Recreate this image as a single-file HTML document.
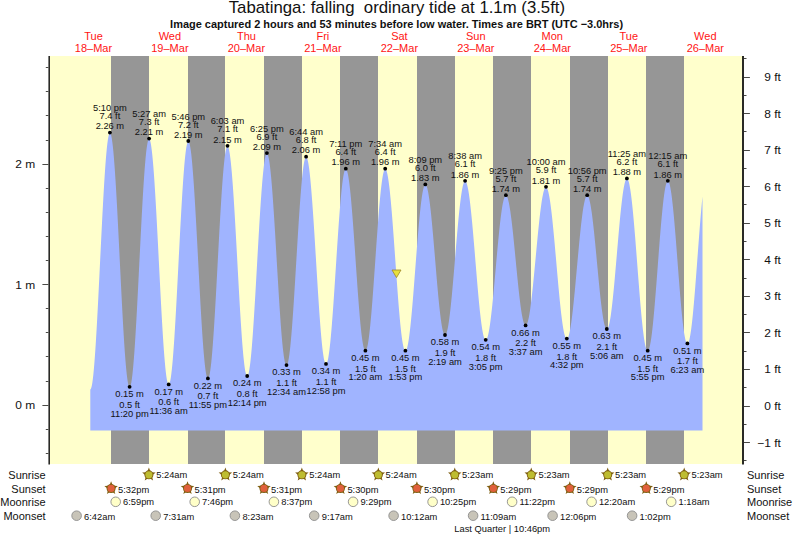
<!DOCTYPE html>
<html lang="en"><head><meta charset="utf-8"><title>Tabatinga tide times</title>
<style>html,body{margin:0;padding:0;background:#fff;}body{width:793px;height:538px;overflow:hidden;font-family:"Liberation Sans",Arial,Helvetica,sans-serif;}svg{display:block;}</style>
</head><body>
<svg width="793" height="538" viewBox="0 0 793 538" font-family="'Liberation Sans', Arial, Helvetica, sans-serif">
<rect width="793" height="538" fill="#fff"/>
<g shape-rendering="crispEdges">
<rect x="50" y="56" width="692" height="408" fill="#ffffcc"/>
<rect x="111" y="56" width="38" height="408" fill="#969696"/>
<rect x="188" y="56" width="37" height="408" fill="#969696"/>
<rect x="264" y="56" width="38" height="408" fill="#969696"/>
<rect x="340" y="56" width="38" height="408" fill="#969696"/>
<rect x="417" y="56" width="38" height="408" fill="#969696"/>
<rect x="493" y="56" width="38" height="408" fill="#969696"/>
<rect x="570" y="56" width="38" height="408" fill="#969696"/>
<rect x="646" y="56" width="38" height="408" fill="#969696"/>
</g>
<polygon points="90.30,430.6 90.30,389.53 90.80,389.09 91.30,387.84 91.80,385.77 92.30,382.91 92.80,379.27 93.30,374.88 93.80,369.76 94.30,363.95 94.80,357.48 95.30,350.40 95.80,342.74 96.30,334.57 96.80,325.93 97.30,316.87 97.80,307.46 98.30,297.75 98.80,287.81 99.30,277.70 99.80,267.49 100.30,257.23 100.80,247.00 101.30,236.86 101.80,226.88 102.30,217.12 102.80,207.63 103.30,198.49 103.80,189.75 104.30,181.47 104.80,173.69 105.30,166.47 105.80,159.86 106.30,153.90 106.80,148.62 107.30,144.06 107.80,140.25 108.30,137.21 108.80,134.96 109.30,133.52 109.80,132.90 109.93,132.87 110.30,133.09 110.80,134.09 111.30,135.90 111.80,138.50 112.30,141.88 112.80,146.01 113.30,150.86 113.80,156.42 114.30,162.63 114.80,169.47 115.30,176.89 115.80,184.84 116.30,193.26 116.80,202.12 117.30,211.34 117.80,220.88 118.30,230.66 118.80,240.63 119.30,250.72 119.80,260.88 120.30,271.03 120.80,281.11 121.30,291.05 121.80,300.79 122.30,310.28 122.80,319.44 123.30,328.22 123.80,336.57 124.30,344.43 124.80,351.75 125.30,358.48 125.80,364.59 126.30,370.03 126.80,374.76 127.30,378.76 127.80,382.00 128.30,384.47 128.80,386.13 129.30,387.00 129.58,387.12 129.80,387.05 130.30,386.29 130.80,384.74 131.30,382.39 131.80,379.28 132.30,375.40 132.80,370.80 133.30,365.49 133.80,359.52 134.30,352.93 134.80,345.75 135.30,338.03 135.80,329.83 136.30,321.19 136.80,312.18 137.30,302.84 137.80,293.25 138.30,283.46 138.80,273.54 139.30,263.55 139.80,253.56 140.30,243.63 140.80,233.82 141.30,224.20 141.80,214.84 142.30,205.79 142.80,197.10 143.30,188.85 143.80,181.08 144.30,173.84 144.80,167.18 145.30,161.14 145.80,155.76 146.30,151.08 146.80,147.13 147.30,143.93 147.80,141.50 148.30,139.86 148.80,139.01 149.07,138.89 149.30,138.98 149.80,139.73 150.30,141.27 150.80,143.58 151.30,146.65 151.80,150.46 152.30,154.98 152.80,160.19 153.30,166.06 153.80,172.54 154.30,179.59 154.80,187.17 155.30,195.23 155.80,203.71 156.30,212.57 156.80,221.75 157.30,231.18 157.80,240.81 158.30,250.57 158.80,260.41 159.30,270.25 159.80,280.04 160.30,289.72 160.80,299.21 161.30,308.47 161.80,317.42 162.30,326.02 162.80,334.20 163.30,341.92 163.80,349.13 164.30,355.78 164.80,361.82 165.30,367.22 165.80,371.94 166.30,375.95 166.80,379.24 167.30,381.77 167.80,383.52 168.30,384.50 168.67,384.71 168.80,384.69 169.30,384.10 169.80,382.73 170.30,380.60 170.80,377.72 171.30,374.11 171.80,369.79 172.30,364.78 172.80,359.13 173.30,352.86 173.80,346.02 174.30,338.64 174.80,330.79 175.30,322.50 175.80,313.83 176.30,304.84 176.80,295.58 177.30,286.11 177.80,276.49 178.30,266.79 178.80,257.07 179.30,247.38 179.80,237.79 180.30,228.36 180.80,219.16 181.30,210.23 181.80,201.64 182.30,193.45 182.80,185.69 183.30,178.44 183.80,171.72 184.30,165.58 184.80,160.07 185.30,155.21 185.80,151.05 186.30,147.59 186.80,144.88 187.30,142.92 187.80,141.72 188.30,141.31 188.32,141.31 188.80,141.66 189.30,142.77 189.80,144.63 190.30,147.24 190.80,150.57 191.30,154.60 191.80,159.31 192.30,164.66 192.80,170.63 193.30,177.17 193.80,184.24 194.30,191.80 194.80,199.80 195.30,208.18 195.80,216.90 196.30,225.89 196.80,235.11 197.30,244.48 197.80,253.95 198.30,263.46 198.80,272.95 199.30,282.35 199.80,291.62 200.30,300.67 200.80,309.47 201.30,317.95 201.80,326.06 202.30,333.74 202.80,340.95 203.30,347.64 203.80,353.77 204.30,359.30 204.80,364.18 205.30,368.40 205.80,371.92 206.30,374.73 206.80,376.79 207.30,378.11 207.80,378.67 207.92,378.69 208.30,378.47 208.80,377.52 209.30,375.83 209.80,373.40 210.30,370.26 210.80,366.42 211.30,361.91 211.80,356.76 212.30,351.00 212.80,344.66 213.30,337.80 213.80,330.45 214.30,322.66 214.80,314.48 215.30,305.96 215.80,297.17 216.30,288.14 216.80,278.96 217.30,269.66 217.80,260.32 218.30,250.99 218.80,241.74 219.30,232.62 219.80,223.69 220.30,215.01 220.80,206.64 221.30,198.63 221.80,191.03 222.30,183.89 222.80,177.26 223.30,171.17 223.80,165.68 224.30,160.81 224.80,156.60 225.30,153.07 225.80,150.24 226.30,148.14 226.80,146.78 227.30,146.16 227.46,146.12 227.80,146.29 228.30,147.15 228.80,148.74 229.30,151.04 229.80,154.04 230.30,157.72 230.80,162.06 231.30,167.03 231.80,172.59 232.30,178.72 232.80,185.37 233.30,192.51 233.80,200.08 234.30,208.04 234.80,216.33 235.30,224.92 235.80,233.73 236.30,242.72 236.80,251.82 237.30,260.98 237.80,270.15 238.30,279.26 238.80,288.25 239.30,297.07 239.80,305.67 240.30,313.98 240.80,321.96 241.30,329.55 241.80,336.70 242.30,343.38 242.80,349.53 243.30,355.13 243.80,360.12 244.30,364.49 244.80,368.20 245.30,371.24 245.80,373.57 246.30,375.19 246.80,376.09 247.16,376.28 247.30,376.25 247.80,375.71 248.30,374.46 248.80,372.51 249.30,369.87 249.80,366.58 250.30,362.63 250.80,358.06 251.30,352.90 251.80,347.18 252.30,340.94 252.80,334.22 253.30,327.05 253.80,319.49 254.30,311.58 254.80,303.37 255.30,294.92 255.80,286.28 256.30,277.50 256.80,268.64 257.30,259.76 257.80,250.90 258.30,242.14 258.80,233.52 259.30,225.10 259.80,216.93 260.30,209.07 260.80,201.56 261.30,194.45 261.80,187.79 262.30,181.62 262.80,175.98 263.30,170.90 263.80,166.42 264.30,162.56 264.80,159.35 265.30,156.81 265.80,154.96 266.30,153.81 266.80,153.36 266.87,153.36 267.30,153.61 267.80,154.54 268.30,156.14 268.80,158.41 269.30,161.32 269.80,164.86 270.30,169.01 270.80,173.75 271.30,179.03 271.80,184.82 272.30,191.10 272.80,197.81 273.30,204.92 273.80,212.38 274.30,220.14 274.80,228.16 275.30,236.37 275.80,244.73 276.30,253.19 276.80,261.69 277.30,270.17 277.80,278.58 278.30,286.87 278.80,294.98 279.30,302.86 279.80,310.47 280.30,317.75 280.80,324.65 281.30,331.13 281.80,337.15 282.30,342.68 282.80,347.67 283.30,352.09 283.80,355.91 284.30,359.12 284.80,361.69 285.30,363.60 285.80,364.84 286.30,365.40 286.46,365.44 286.80,365.28 287.30,364.50 287.80,363.07 288.30,360.98 288.80,358.25 289.30,354.90 289.80,350.96 290.30,346.44 290.80,341.37 291.30,335.80 291.80,329.75 292.30,323.26 292.80,316.37 293.30,309.13 293.80,301.59 294.30,293.79 294.80,285.78 295.30,277.61 295.80,269.34 296.30,261.01 296.80,252.69 297.30,244.42 297.80,236.26 298.30,228.26 298.80,220.47 299.30,212.94 299.80,205.71 300.30,198.85 300.80,192.38 301.30,186.34 301.80,180.79 302.30,175.75 302.80,171.26 303.30,167.34 303.80,164.02 304.30,161.32 304.80,159.26 305.30,157.85 305.80,157.10 306.11,156.97 306.30,157.01 306.80,157.58 307.30,158.79 307.80,160.63 308.30,163.10 308.80,166.18 309.30,169.85 309.80,174.09 310.30,178.87 310.80,184.16 311.30,189.92 311.80,196.13 312.30,202.74 312.80,209.72 313.30,217.01 313.80,224.57 314.30,232.36 314.80,240.32 315.30,248.42 315.80,256.58 316.30,264.78 316.80,272.95 317.30,281.04 317.80,289.00 318.30,296.78 318.80,304.34 319.30,311.63 319.80,318.59 320.30,325.20 320.80,331.40 321.30,337.15 321.80,342.43 322.30,347.20 322.80,351.43 323.30,355.08 323.80,358.15 324.30,360.61 324.80,362.44 325.30,363.64 325.80,364.19 325.98,364.23 326.30,364.10 326.80,363.40 327.30,362.09 327.80,360.18 328.30,357.68 328.80,354.61 329.30,350.98 329.80,346.83 330.30,342.17 330.80,337.04 331.30,331.46 331.80,325.48 332.30,319.12 332.80,312.44 333.30,305.47 333.80,298.26 334.30,290.84 334.80,283.28 335.30,275.61 335.80,267.88 336.30,260.14 336.80,252.45 337.30,244.84 337.80,237.38 338.30,230.09 338.80,223.04 339.30,216.26 339.80,209.79 340.30,203.69 340.80,197.97 341.30,192.69 341.80,187.88 342.30,183.56 342.80,179.76 343.30,176.51 343.80,173.82 344.30,171.72 344.80,170.21 345.30,169.31 345.79,169.02 345.80,169.02 346.30,169.33 346.80,170.22 347.30,171.69 347.80,173.72 348.30,176.31 348.80,179.44 349.30,183.08 349.80,187.22 350.30,191.82 350.80,196.86 351.30,202.31 351.80,208.13 352.30,214.28 352.80,220.73 353.30,227.42 353.80,234.33 354.30,241.40 354.80,248.59 355.30,255.85 355.80,263.14 356.30,270.41 356.80,277.62 357.30,284.71 357.80,291.64 358.30,298.37 358.80,304.85 359.30,311.04 359.80,316.91 360.30,322.41 360.80,327.51 361.30,332.18 361.80,336.38 362.30,340.09 362.80,343.29 363.30,345.95 363.80,348.06 364.30,349.61 364.80,350.58 365.30,350.97 365.38,350.98 365.80,350.78 366.30,350.02 366.80,348.70 367.30,346.82 367.80,344.41 368.30,341.46 368.80,338.01 369.30,334.06 369.80,329.66 370.30,324.82 370.80,319.57 371.30,313.95 371.80,308.00 372.30,301.74 372.80,295.23 373.30,288.49 373.80,281.57 374.30,274.53 374.80,267.38 375.30,260.20 375.80,253.01 376.30,245.87 376.80,238.81 377.30,231.89 377.80,225.14 378.30,218.61 378.80,212.34 379.30,206.36 379.80,200.73 380.30,195.46 380.80,190.59 381.30,186.16 381.80,182.20 382.30,178.71 382.80,175.74 383.30,173.29 383.80,171.39 384.30,170.03 384.80,169.25 385.25,169.02 385.30,169.02 385.80,169.36 386.30,170.25 386.80,171.69 387.30,173.66 387.80,176.16 388.30,179.17 388.80,182.67 389.30,186.64 389.80,191.06 390.30,195.90 390.80,201.12 391.30,206.71 391.80,212.62 392.30,218.82 392.80,225.27 393.30,231.93 393.80,238.76 394.30,245.73 394.80,252.77 395.30,259.87 395.80,266.96 396.30,274.01 396.80,280.98 397.30,287.81 397.80,294.48 398.30,300.94 398.80,307.15 399.30,313.07 399.80,318.67 400.30,323.91 400.80,328.77 401.30,333.20 401.80,337.19 402.30,340.71 402.80,343.74 403.30,346.25 403.80,348.25 404.30,349.70 404.80,350.61 405.30,350.97 405.37,350.98 405.80,350.79 406.30,350.09 406.80,348.89 407.30,347.18 407.80,344.99 408.30,342.32 408.80,339.18 409.30,335.61 409.80,331.61 410.30,327.22 410.80,322.47 411.30,317.37 411.80,311.97 412.30,306.30 412.80,300.39 413.30,294.28 413.80,288.00 414.30,281.60 414.80,275.11 415.30,268.58 415.80,262.05 416.30,255.55 416.80,249.12 417.30,242.82 417.80,236.66 418.30,230.70 418.80,224.97 419.30,219.50 419.80,214.34 420.30,209.50 420.80,205.02 421.30,200.94 421.80,197.26 422.30,194.03 422.80,191.25 423.30,188.94 423.80,187.12 424.30,185.80 424.80,184.99 425.30,184.69 425.34,184.68 425.80,184.89 426.30,185.57 426.80,186.72 427.30,188.35 427.80,190.43 428.30,192.95 428.80,195.90 429.30,199.27 429.80,203.02 430.30,207.13 430.80,211.58 431.30,216.35 431.80,221.39 432.30,226.67 432.80,232.17 433.30,237.85 433.80,243.67 434.30,249.59 434.80,255.58 435.30,261.60 435.80,267.61 436.30,273.56 436.80,279.44 437.30,285.19 437.80,290.77 438.30,296.16 438.80,301.32 439.30,306.22 439.80,310.82 440.30,315.10 440.80,319.02 441.30,322.57 441.80,325.71 442.30,328.44 442.80,330.73 443.30,332.57 443.80,333.95 444.30,334.85 444.80,335.27 444.99,335.31 445.30,335.22 445.80,334.70 446.30,333.71 446.80,332.26 447.30,330.36 447.80,328.02 448.30,325.26 448.80,322.09 449.30,318.52 449.80,314.60 450.30,310.32 450.80,305.73 451.30,300.86 451.80,295.72 452.30,290.35 452.80,284.79 453.30,279.06 453.80,273.21 454.30,267.27 454.80,261.27 455.30,255.25 455.80,249.26 456.30,243.31 456.80,237.46 457.30,231.73 457.80,226.16 458.30,220.79 458.80,215.65 459.30,210.76 459.80,206.16 460.30,201.88 460.80,197.95 461.30,194.38 461.80,191.20 462.30,188.42 462.80,186.07 463.30,184.16 463.80,182.70 464.30,181.70 464.80,181.17 465.12,181.07 465.30,181.10 465.80,181.50 466.30,182.36 466.80,183.68 467.30,185.44 467.80,187.65 468.30,190.28 468.80,193.32 469.30,196.76 469.80,200.57 470.30,204.72 470.80,209.21 471.30,213.99 471.80,219.05 472.30,224.35 472.80,229.86 473.30,235.55 473.80,241.38 474.30,247.33 474.80,253.36 475.30,259.43 475.80,265.50 476.30,271.55 476.80,277.53 477.30,283.41 477.80,289.16 478.30,294.75 478.80,300.13 479.30,305.29 479.80,310.18 480.30,314.78 480.80,319.07 481.30,323.01 481.80,326.60 482.30,329.79 482.80,332.58 483.30,334.96 483.80,336.89 484.30,338.38 484.80,339.42 485.30,340.00 485.67,340.13 485.80,340.12 486.30,339.79 486.80,339.02 487.30,337.82 487.80,336.20 488.30,334.17 488.80,331.73 489.30,328.91 489.80,325.72 490.30,322.17 490.80,318.30 491.30,314.12 491.80,309.66 492.30,304.95 492.80,300.01 493.30,294.88 493.80,289.59 494.30,284.16 494.80,278.63 495.30,273.04 495.80,267.42 496.30,261.80 496.80,256.22 497.30,250.70 497.80,245.29 498.30,240.02 498.80,234.91 499.30,230.01 499.80,225.33 500.30,220.91 500.80,216.78 501.30,212.95 501.80,209.46 502.30,206.32 502.80,203.55 503.30,201.17 503.80,199.20 504.30,197.64 504.80,196.50 505.30,195.80 505.80,195.53 505.85,195.53 506.30,195.69 506.80,196.26 507.30,197.24 507.80,198.62 508.30,200.39 508.80,202.54 509.30,205.06 509.80,207.92 510.30,211.12 510.80,214.64 511.30,218.44 511.80,222.51 512.30,226.82 512.80,231.35 513.30,236.05 513.80,240.92 514.30,245.91 514.80,250.99 515.30,256.13 515.80,261.30 516.30,266.47 516.80,271.59 517.30,276.65 517.80,281.61 518.30,286.44 518.80,291.10 519.30,295.57 519.80,299.81 520.30,303.82 520.80,307.54 521.30,310.97 521.80,314.09 522.30,316.86 522.80,319.28 523.30,321.33 523.80,322.99 524.30,324.26 524.80,325.13 525.30,325.59 525.61,325.67 525.80,325.64 526.30,325.28 526.80,324.50 527.30,323.32 527.80,321.75 528.30,319.78 528.80,317.43 529.30,314.72 529.80,311.66 530.30,308.28 530.80,304.58 531.30,300.60 531.80,296.35 532.30,291.86 532.80,287.17 533.30,282.29 533.80,277.25 534.30,272.09 534.80,266.84 535.30,261.52 535.80,256.18 536.30,250.83 536.80,245.52 537.30,240.27 537.80,235.12 538.30,230.10 538.80,225.23 539.30,220.55 539.80,216.08 540.30,211.85 540.80,207.89 541.30,204.22 541.80,200.85 542.30,197.82 542.80,195.14 543.30,192.82 543.80,190.88 544.30,189.34 544.80,188.19 545.30,187.44 545.80,187.11 545.95,187.09 546.30,187.20 546.80,187.72 547.30,188.66 547.80,190.03 548.30,191.81 548.80,194.00 549.30,196.59 549.80,199.54 550.30,202.87 550.80,206.53 551.30,210.51 551.80,214.80 552.30,219.35 552.80,224.16 553.30,229.19 553.80,234.40 554.30,239.79 554.80,245.30 555.30,250.92 555.80,256.60 556.30,262.32 556.80,268.04 557.30,273.74 557.80,279.37 558.30,284.92 558.80,290.33 559.30,295.59 559.80,300.67 560.30,305.53 560.80,310.15 561.30,314.50 561.80,318.56 562.30,322.30 562.80,325.71 563.30,328.76 563.80,331.43 564.30,333.71 564.80,335.60 565.30,337.07 565.80,338.11 566.30,338.73 566.77,338.92 566.80,338.92 567.30,338.69 567.80,338.02 568.30,336.94 568.80,335.45 569.30,333.55 569.80,331.25 570.30,328.58 570.80,325.54 571.30,322.16 571.80,318.45 572.30,314.44 572.80,310.15 573.30,305.60 573.80,300.83 574.30,295.85 574.80,290.71 575.30,285.43 575.80,280.04 576.30,274.57 576.80,269.06 577.30,263.54 577.80,258.04 578.30,252.60 578.80,247.24 579.30,242.00 579.80,236.91 580.30,232.00 580.80,227.30 581.30,222.84 581.80,218.64 582.30,214.73 582.80,211.12 583.30,207.86 583.80,204.94 584.30,202.39 584.80,200.23 585.30,198.46 585.80,197.10 586.30,196.16 586.80,195.64 587.16,195.53 587.30,195.55 587.80,195.88 588.30,196.63 588.80,197.81 589.30,199.40 589.80,201.39 590.30,203.77 590.80,206.52 591.30,209.63 591.80,213.08 592.30,216.84 592.80,220.90 593.30,225.22 593.80,229.78 594.30,234.54 594.80,239.49 595.30,244.58 595.80,249.78 596.30,255.06 596.80,260.40 597.30,265.74 597.80,271.06 598.30,276.33 598.80,281.51 599.30,286.57 599.80,291.47 600.30,296.19 600.80,300.69 601.30,304.95 601.80,308.93 602.30,312.62 602.80,315.99 603.30,319.01 603.80,321.67 604.30,323.96 604.80,325.85 605.30,327.34 605.80,328.41 606.30,329.06 606.80,329.28 606.81,329.28 607.30,329.07 607.80,328.39 608.30,327.27 608.80,325.69 609.30,323.68 609.80,321.25 610.30,318.40 610.80,315.17 611.30,311.56 611.80,307.60 612.30,303.31 612.80,298.73 613.30,293.87 613.80,288.77 614.30,283.46 614.80,277.96 615.30,272.33 615.80,266.57 616.30,260.75 616.80,254.88 617.30,249.01 617.80,243.16 618.30,237.38 618.80,231.71 619.30,226.17 619.80,220.79 620.30,215.62 620.80,210.69 621.30,206.01 621.80,201.63 622.30,197.57 622.80,193.85 623.30,190.50 623.80,187.53 624.30,184.97 624.80,182.83 625.30,181.12 625.80,179.85 626.30,179.04 626.80,178.68 626.94,178.66 627.30,178.79 627.80,179.39 628.30,180.48 628.80,182.06 629.30,184.12 629.80,186.63 630.30,189.60 630.80,193.00 631.30,196.81 631.80,201.02 632.30,205.59 632.80,210.50 633.30,215.72 633.80,221.23 634.30,226.98 634.80,232.96 635.30,239.11 635.80,245.42 636.30,251.83 636.80,258.32 637.30,264.85 637.80,271.38 638.30,277.87 638.80,284.29 639.30,290.59 639.80,296.74 640.30,302.71 640.80,308.47 641.30,313.97 641.80,319.19 642.30,324.10 642.80,328.66 643.30,332.86 643.80,336.67 644.30,340.07 644.80,343.03 645.30,345.54 645.80,347.59 646.30,349.17 646.80,350.25 647.30,350.85 647.65,350.98 647.80,350.95 648.30,350.55 648.80,349.63 649.30,348.20 649.80,346.28 650.30,343.87 650.80,340.99 651.30,337.65 651.80,333.88 652.30,329.70 652.80,325.14 653.30,320.22 653.80,314.96 654.30,309.42 654.80,303.61 655.30,297.57 655.80,291.34 656.30,284.96 656.80,278.46 657.30,271.89 657.80,265.28 658.30,258.68 658.80,252.12 659.30,245.65 659.80,239.30 660.30,233.11 660.80,227.12 661.30,221.36 661.80,215.88 662.30,210.70 662.80,205.85 663.30,201.37 663.80,197.28 664.30,193.61 664.80,190.37 665.30,187.60 665.80,185.30 666.30,183.48 666.80,182.17 667.30,181.36 667.80,181.07 667.83,181.07 668.30,181.30 668.80,182.05 669.30,183.32 669.80,185.10 670.30,187.37 670.80,190.14 671.30,193.37 671.80,197.04 672.30,201.14 672.80,205.63 673.30,210.49 673.80,215.69 674.30,221.18 674.80,226.94 675.30,232.94 675.80,239.12 676.30,245.45 676.80,251.89 677.30,258.40 677.80,264.94 678.30,271.46 678.80,277.92 679.30,284.28 679.80,290.50 680.30,296.53 680.80,302.35 681.30,307.91 681.80,313.18 682.30,318.11 682.80,322.69 683.30,326.88 683.80,330.66 684.30,333.99 684.80,336.86 685.30,339.25 685.80,341.14 686.30,342.53 686.80,343.39 687.30,343.74 687.38,343.75 687.80,343.56 688.30,342.86 688.80,341.65 689.30,339.93 689.80,337.72 690.30,335.02 690.80,331.85 691.30,328.23 691.80,324.19 692.30,319.75 692.80,314.92 693.30,309.75 693.80,304.27 694.30,298.50 694.80,292.48 695.30,286.25 695.80,279.85 696.30,273.31 696.80,266.67 697.30,259.97 697.80,253.25 698.30,246.56 698.80,239.93 699.30,233.40 699.80,227.01 700.30,220.80 700.80,214.81 701.30,209.08 701.80,203.62 702.30,198.49 702.50,196.54 702.50,430.6" fill="#a0b4ff"/>
<g fill="#2a2a26">
<rect x="48.4" y="56" width="1.6" height="408.5"/>
<rect x="742" y="56" width="2" height="408.5"/>
</g>
<g fill="#4a4a46">
<rect x="45.8" y="453" width="2.7" height="1"/>
<rect x="45.8" y="429" width="2.7" height="1"/>
<rect x="42.4" y="405" width="6.1" height="1"/>
<rect x="45.8" y="381" width="2.7" height="1"/>
<rect x="45.8" y="356" width="2.7" height="1"/>
<rect x="45.8" y="332" width="2.7" height="1"/>
<rect x="45.8" y="308" width="2.7" height="1"/>
<rect x="42.4" y="284" width="6.1" height="1"/>
<rect x="45.8" y="260" width="2.7" height="1"/>
<rect x="45.8" y="236" width="2.7" height="1"/>
<rect x="45.8" y="212" width="2.7" height="1"/>
<rect x="45.8" y="188" width="2.7" height="1"/>
<rect x="42.4" y="164" width="6.1" height="1"/>
<rect x="45.8" y="140" width="2.7" height="1"/>
<rect x="45.8" y="115" width="2.7" height="1"/>
<rect x="45.8" y="91" width="2.7" height="1"/>
<rect x="45.8" y="67" width="2.7" height="1"/>
<rect x="743.9" y="460" width="2.6" height="1"/>
<rect x="743.9" y="442" width="6" height="1"/>
<rect x="743.9" y="424" width="2.6" height="1"/>
<rect x="743.9" y="406" width="6" height="1"/>
<rect x="743.9" y="387" width="2.6" height="1"/>
<rect x="743.9" y="369" width="6" height="1"/>
<rect x="743.9" y="351" width="2.6" height="1"/>
<rect x="743.9" y="332" width="6" height="1"/>
<rect x="743.9" y="314" width="2.6" height="1"/>
<rect x="743.9" y="296" width="6" height="1"/>
<rect x="743.9" y="278" width="2.6" height="1"/>
<rect x="743.9" y="259" width="6" height="1"/>
<rect x="743.9" y="241" width="2.6" height="1"/>
<rect x="743.9" y="223" width="6" height="1"/>
<rect x="743.9" y="204" width="2.6" height="1"/>
<rect x="743.9" y="186" width="6" height="1"/>
<rect x="743.9" y="168" width="2.6" height="1"/>
<rect x="743.9" y="150" width="6" height="1"/>
<rect x="743.9" y="131" width="2.6" height="1"/>
<rect x="743.9" y="113" width="6" height="1"/>
<rect x="743.9" y="95" width="2.6" height="1"/>
<rect x="743.9" y="77" width="6" height="1"/>
<rect x="743.9" y="58" width="2.6" height="1"/>
</g>
<g font-size="11" fill="#111">
<text transform="translate(35.2,409.2) scale(1.09,1)" text-anchor="end">0 m</text>
<text transform="translate(35.2,288.7) scale(1.09,1)" text-anchor="end">1 m</text>
<text transform="translate(35.2,168.2) scale(1.09,1)" text-anchor="end">2 m</text>
<text transform="translate(780.9,446.6) scale(1.09,1)" text-anchor="end">−1 ft</text>
<text transform="translate(780.9,410.0) scale(1.09,1)" text-anchor="end">0 ft</text>
<text transform="translate(780.9,373.4) scale(1.09,1)" text-anchor="end">1 ft</text>
<text transform="translate(780.9,336.9) scale(1.09,1)" text-anchor="end">2 ft</text>
<text transform="translate(780.9,300.4) scale(1.09,1)" text-anchor="end">3 ft</text>
<text transform="translate(780.9,263.8) scale(1.09,1)" text-anchor="end">4 ft</text>
<text transform="translate(780.9,227.2) scale(1.09,1)" text-anchor="end">5 ft</text>
<text transform="translate(780.9,190.7) scale(1.09,1)" text-anchor="end">6 ft</text>
<text transform="translate(780.9,154.2) scale(1.09,1)" text-anchor="end">7 ft</text>
<text transform="translate(780.9,117.6) scale(1.09,1)" text-anchor="end">8 ft</text>
<text transform="translate(780.9,81.1) scale(1.09,1)" text-anchor="end">9 ft</text>
</g>
<text x="396.9" y="13.4" font-size="16.78" text-anchor="middle" fill="#111" xml:space="preserve" style="white-space:pre">Tabatinga: falling  ordinary tide at 1.1m (3.5ft)</text>
<text x="396.6" y="27.6" font-size="10.97" font-weight="bold" text-anchor="middle" fill="#111">Image captured 2 hours and 53 minutes before low water. Times are BRT (UTC −3.0hrs)</text>
<g font-size="11" fill="#ff1414" text-anchor="middle">
<text x="93.5" y="39.6">Tue</text>
<text x="93.5" y="51.8">18–Mar</text>
<text x="169.9" y="39.6">Wed</text>
<text x="169.9" y="51.8">19–Mar</text>
<text x="246.4" y="39.6">Thu</text>
<text x="246.4" y="51.8">20–Mar</text>
<text x="322.9" y="39.6">Fri</text>
<text x="322.9" y="51.8">21–Mar</text>
<text x="399.4" y="39.6">Sat</text>
<text x="399.4" y="51.8">22–Mar</text>
<text x="475.8" y="39.6">Sun</text>
<text x="475.8" y="51.8">23–Mar</text>
<text x="552.3" y="39.6">Mon</text>
<text x="552.3" y="51.8">24–Mar</text>
<text x="628.8" y="39.6">Tue</text>
<text x="628.8" y="51.8">25–Mar</text>
<text x="705.3" y="39.6">Wed</text>
<text x="705.3" y="51.8">26–Mar</text>
</g>
<g font-size="9.33" fill="#111" text-anchor="middle">
<circle cx="109.9" cy="132.6" r="1.9" fill="#000"/>
<text x="109.9" y="129.3">2.26 m</text>
<text x="109.9" y="119.1">7.4 ft</text>
<text x="109.9" y="111.1">5:10 pm</text>
<circle cx="129.6" cy="386.8" r="1.9" fill="#000"/>
<text x="129.6" y="396.9">0.15 m</text>
<text x="129.6" y="407.7">0.5 ft</text>
<text x="129.6" y="416.5">11:20 pm</text>
<circle cx="149.1" cy="138.6" r="1.9" fill="#000"/>
<text x="149.1" y="135.3">2.21 m</text>
<text x="149.1" y="125.1">7.3 ft</text>
<text x="149.1" y="117.1">5:27 am</text>
<circle cx="168.7" cy="384.4" r="1.9" fill="#000"/>
<text x="168.7" y="394.5">0.17 m</text>
<text x="168.7" y="405.3">0.6 ft</text>
<text x="168.7" y="414.1">11:36 am</text>
<circle cx="188.3" cy="141.0" r="1.9" fill="#000"/>
<text x="188.3" y="137.7">2.19 m</text>
<text x="188.3" y="127.5">7.2 ft</text>
<text x="188.3" y="119.5">5:46 pm</text>
<circle cx="207.9" cy="378.4" r="1.9" fill="#000"/>
<text x="207.9" y="388.5">0.22 m</text>
<text x="207.9" y="399.3">0.7 ft</text>
<text x="207.9" y="408.1">11:55 pm</text>
<circle cx="227.5" cy="145.8" r="1.9" fill="#000"/>
<text x="227.5" y="142.5">2.15 m</text>
<text x="227.5" y="132.3">7.1 ft</text>
<text x="227.5" y="124.3">6:03 am</text>
<circle cx="247.2" cy="376.0" r="1.9" fill="#000"/>
<text x="247.2" y="386.1">0.24 m</text>
<text x="247.2" y="396.9">0.8 ft</text>
<text x="247.2" y="405.7">12:14 pm</text>
<circle cx="266.9" cy="153.1" r="1.9" fill="#000"/>
<text x="266.9" y="149.8">2.09 m</text>
<text x="266.9" y="139.6">6.9 ft</text>
<text x="266.9" y="131.6">6:25 pm</text>
<circle cx="286.5" cy="365.1" r="1.9" fill="#000"/>
<text x="286.5" y="375.2">0.33 m</text>
<text x="286.5" y="386.0">1.1 ft</text>
<text x="286.5" y="394.8">12:34 am</text>
<circle cx="306.1" cy="156.7" r="1.9" fill="#000"/>
<text x="306.1" y="153.4">2.06 m</text>
<text x="306.1" y="143.2">6.8 ft</text>
<text x="306.1" y="135.2">6:44 am</text>
<circle cx="326.0" cy="363.9" r="1.9" fill="#000"/>
<text x="326.0" y="374.0">0.34 m</text>
<text x="326.0" y="384.8">1.1 ft</text>
<text x="326.0" y="393.6">12:58 pm</text>
<circle cx="345.8" cy="168.7" r="1.9" fill="#000"/>
<text x="345.8" y="165.4">1.96 m</text>
<text x="345.8" y="155.2">6.4 ft</text>
<text x="345.8" y="147.2">7:11 pm</text>
<circle cx="365.4" cy="350.7" r="1.9" fill="#000"/>
<text x="365.4" y="360.8">0.45 m</text>
<text x="365.4" y="371.6">1.5 ft</text>
<text x="365.4" y="380.4">1:20 am</text>
<circle cx="385.2" cy="168.7" r="1.9" fill="#000"/>
<text x="385.2" y="165.4">1.96 m</text>
<text x="385.2" y="155.2">6.4 ft</text>
<text x="385.2" y="147.2">7:34 am</text>
<circle cx="405.4" cy="350.7" r="1.9" fill="#000"/>
<text x="405.4" y="360.8">0.45 m</text>
<text x="405.4" y="371.6">1.5 ft</text>
<text x="405.4" y="380.4">1:53 pm</text>
<circle cx="425.3" cy="184.4" r="1.9" fill="#000"/>
<text x="425.3" y="181.1">1.83 m</text>
<text x="425.3" y="170.9">6.0 ft</text>
<text x="425.3" y="162.9">8:09 pm</text>
<circle cx="445.0" cy="335.0" r="1.9" fill="#000"/>
<text x="445.0" y="345.1">0.58 m</text>
<text x="445.0" y="355.9">1.9 ft</text>
<text x="445.0" y="364.7">2:19 am</text>
<circle cx="465.1" cy="180.8" r="1.9" fill="#000"/>
<text x="465.1" y="177.5">1.86 m</text>
<text x="465.1" y="167.3">6.1 ft</text>
<text x="465.1" y="159.3">8:38 am</text>
<circle cx="485.7" cy="339.8" r="1.9" fill="#000"/>
<text x="485.7" y="349.9">0.54 m</text>
<text x="485.7" y="360.7">1.8 ft</text>
<text x="485.7" y="369.5">3:05 pm</text>
<circle cx="505.9" cy="195.2" r="1.9" fill="#000"/>
<text x="505.9" y="191.9">1.74 m</text>
<text x="505.9" y="181.7">5.7 ft</text>
<text x="505.9" y="173.7">9:25 pm</text>
<circle cx="525.6" cy="325.4" r="1.9" fill="#000"/>
<text x="525.6" y="335.5">0.66 m</text>
<text x="525.6" y="346.3">2.2 ft</text>
<text x="525.6" y="355.1">3:37 am</text>
<circle cx="546.0" cy="186.8" r="1.9" fill="#000"/>
<text x="546.0" y="183.5">1.81 m</text>
<text x="546.0" y="173.3">5.9 ft</text>
<text x="546.0" y="165.3">10:00 am</text>
<circle cx="566.8" cy="338.6" r="1.9" fill="#000"/>
<text x="566.8" y="348.7">0.55 m</text>
<text x="566.8" y="359.5">1.8 ft</text>
<text x="566.8" y="368.3">4:32 pm</text>
<circle cx="587.2" cy="195.2" r="1.9" fill="#000"/>
<text x="587.2" y="191.9">1.74 m</text>
<text x="587.2" y="181.7">5.7 ft</text>
<text x="587.2" y="173.7">10:56 pm</text>
<circle cx="606.8" cy="329.0" r="1.9" fill="#000"/>
<text x="606.8" y="339.1">0.63 m</text>
<text x="606.8" y="349.9">2.1 ft</text>
<text x="606.8" y="358.7">5:06 am</text>
<circle cx="626.9" cy="178.4" r="1.9" fill="#000"/>
<text x="626.9" y="175.1">1.88 m</text>
<text x="626.9" y="164.9">6.2 ft</text>
<text x="626.9" y="156.9">11:25 am</text>
<circle cx="647.7" cy="350.7" r="1.9" fill="#000"/>
<text x="647.7" y="360.8">0.45 m</text>
<text x="647.7" y="371.6">1.5 ft</text>
<text x="647.7" y="380.4">5:55 pm</text>
<circle cx="667.8" cy="180.8" r="1.9" fill="#000"/>
<text x="667.8" y="177.5">1.86 m</text>
<text x="667.8" y="167.3">6.1 ft</text>
<text x="667.8" y="159.3">12:15 am</text>
<circle cx="687.4" cy="343.4" r="1.9" fill="#000"/>
<text x="687.4" y="353.5">0.51 m</text>
<text x="687.4" y="364.3">1.7 ft</text>
<text x="687.4" y="373.1">6:23 am</text>
</g>
<polygon points="392,270 401,270 396.5,277.6" fill="#e8e03c" stroke="#a08828" stroke-width="0.8"/>
<g font-size="11" fill="#111">
<text x="45.6" y="478.5" text-anchor="end">Sunrise</text>
<text x="747" y="478.5">Sunrise</text>
<text x="45.6" y="492.6" text-anchor="end">Sunset</text>
<text x="747" y="492.6">Sunset</text>
<text x="45.6" y="505.7" text-anchor="end">Moonrise</text>
<text x="747" y="505.7">Moonrise</text>
<text x="45.6" y="519.5" text-anchor="end">Moonset</text>
<text x="747" y="519.5">Moonset</text>
</g>
<g font-size="9.33" fill="#111">
<polygon points="148.91,467.60 150.68,472.27 155.67,472.51 151.77,475.63 153.09,480.44 148.91,477.70 144.74,480.44 146.06,475.63 142.16,472.51 147.15,472.27" fill="#7e5e10"/><circle cx="148.91" cy="474.85" r="4.5" fill="#7e5e10"/><circle cx="148.91" cy="474.85" r="3.6" fill="#bebc30"/>
<text x="156.2" y="477.6">5:24am</text>
<polygon points="111.10,481.20 112.86,485.87 117.85,486.11 113.95,489.23 115.27,494.04 111.10,491.30 106.93,494.04 108.25,489.23 104.35,486.11 109.34,485.87" fill="#7e5e10"/><circle cx="111.10" cy="488.45" r="4.5" fill="#7e5e10"/><circle cx="111.10" cy="488.45" r="3.6" fill="#e0603c"/>
<text x="118.1" y="492.6">5:32pm</text>
<polygon points="225.39,467.60 227.15,472.27 232.14,472.51 228.24,475.63 229.56,480.44 225.39,477.70 221.22,480.44 222.54,475.63 218.64,472.51 223.63,472.27" fill="#7e5e10"/><circle cx="225.39" cy="474.85" r="4.5" fill="#7e5e10"/><circle cx="225.39" cy="474.85" r="3.6" fill="#bebc30"/>
<text x="232.7" y="477.6">5:24am</text>
<polygon points="187.52,481.20 189.29,485.87 194.28,486.11 190.38,489.23 191.70,494.04 187.52,491.30 183.35,494.04 184.67,489.23 180.77,486.11 185.76,485.87" fill="#7e5e10"/><circle cx="187.52" cy="488.45" r="4.5" fill="#7e5e10"/><circle cx="187.52" cy="488.45" r="3.6" fill="#e0603c"/>
<text x="194.5" y="492.6">5:31pm</text>
<polygon points="301.87,467.60 303.63,472.27 308.62,472.51 304.72,475.63 306.04,480.44 301.87,477.70 297.69,480.44 299.01,475.63 295.11,472.51 300.10,472.27" fill="#7e5e10"/><circle cx="301.87" cy="474.85" r="4.5" fill="#7e5e10"/><circle cx="301.87" cy="474.85" r="3.6" fill="#bebc30"/>
<text x="309.2" y="477.6">5:24am</text>
<polygon points="264.00,481.20 265.76,485.87 270.75,486.11 266.85,489.23 268.17,494.04 264.00,491.30 259.83,494.04 261.15,489.23 257.25,486.11 262.24,485.87" fill="#7e5e10"/><circle cx="264.00" cy="488.45" r="4.5" fill="#7e5e10"/><circle cx="264.00" cy="488.45" r="3.6" fill="#e0603c"/>
<text x="271.0" y="492.6">5:31pm</text>
<polygon points="378.34,467.60 380.10,472.27 385.09,472.51 381.19,475.63 382.51,480.44 378.34,477.70 374.17,480.44 375.49,475.63 371.59,472.51 376.58,472.27" fill="#7e5e10"/><circle cx="378.34" cy="474.85" r="4.5" fill="#7e5e10"/><circle cx="378.34" cy="474.85" r="3.6" fill="#bebc30"/>
<text x="385.6" y="477.6">5:24am</text>
<polygon points="340.42,481.20 342.19,485.87 347.17,486.11 343.27,489.23 344.60,494.04 340.42,491.30 336.25,494.04 337.57,489.23 333.67,486.11 338.66,485.87" fill="#7e5e10"/><circle cx="340.42" cy="488.45" r="4.5" fill="#7e5e10"/><circle cx="340.42" cy="488.45" r="3.6" fill="#e0603c"/>
<text x="347.4" y="492.6">5:30pm</text>
<polygon points="454.76,467.60 456.53,472.27 461.52,472.51 457.62,475.63 458.94,480.44 454.76,477.70 450.59,480.44 451.91,475.63 448.01,472.51 453.00,472.27" fill="#7e5e10"/><circle cx="454.76" cy="474.85" r="4.5" fill="#7e5e10"/><circle cx="454.76" cy="474.85" r="3.6" fill="#bebc30"/>
<text x="462.1" y="477.6">5:23am</text>
<polygon points="416.90,481.20 418.66,485.87 423.65,486.11 419.75,489.23 421.07,494.04 416.90,491.30 412.72,494.04 414.04,489.23 410.15,486.11 415.13,485.87" fill="#7e5e10"/><circle cx="416.90" cy="488.45" r="4.5" fill="#7e5e10"/><circle cx="416.90" cy="488.45" r="3.6" fill="#e0603c"/>
<text x="423.9" y="492.6">5:30pm</text>
<polygon points="531.24,467.60 533.00,472.27 537.99,472.51 534.09,475.63 535.41,480.44 531.24,477.70 527.07,480.44 528.39,475.63 524.49,472.51 529.48,472.27" fill="#7e5e10"/><circle cx="531.24" cy="474.85" r="4.5" fill="#7e5e10"/><circle cx="531.24" cy="474.85" r="3.6" fill="#bebc30"/>
<text x="538.5" y="477.6">5:23am</text>
<polygon points="493.32,481.20 495.08,485.87 500.07,486.11 496.17,489.23 497.49,494.04 493.32,491.30 489.15,494.04 490.47,489.23 486.57,486.11 491.56,485.87" fill="#7e5e10"/><circle cx="493.32" cy="488.45" r="4.5" fill="#7e5e10"/><circle cx="493.32" cy="488.45" r="3.6" fill="#e0603c"/>
<text x="500.3" y="492.6">5:29pm</text>
<polygon points="607.72,467.60 609.48,472.27 614.47,472.51 610.57,475.63 611.89,480.44 607.72,477.70 603.54,480.44 604.86,475.63 600.96,472.51 605.95,472.27" fill="#7e5e10"/><circle cx="607.72" cy="474.85" r="4.5" fill="#7e5e10"/><circle cx="607.72" cy="474.85" r="3.6" fill="#bebc30"/>
<text x="615.0" y="477.6">5:23am</text>
<polygon points="569.80,481.20 571.56,485.87 576.55,486.11 572.65,489.23 573.97,494.04 569.80,491.30 565.62,494.04 566.94,489.23 563.04,486.11 568.03,485.87" fill="#7e5e10"/><circle cx="569.80" cy="488.45" r="4.5" fill="#7e5e10"/><circle cx="569.80" cy="488.45" r="3.6" fill="#e0603c"/>
<text x="576.8" y="492.6">5:29pm</text>
<polygon points="684.19,467.60 685.96,472.27 690.94,472.51 687.05,475.63 688.37,480.44 684.19,477.70 680.02,480.44 681.34,475.63 677.44,472.51 682.43,472.27" fill="#7e5e10"/><circle cx="684.19" cy="474.85" r="4.5" fill="#7e5e10"/><circle cx="684.19" cy="474.85" r="3.6" fill="#bebc30"/>
<text x="691.5" y="477.6">5:23am</text>
<polygon points="646.27,481.20 648.04,485.87 653.03,486.11 649.13,489.23 650.45,494.04 646.27,491.30 642.10,494.04 643.42,489.23 639.52,486.11 644.51,485.87" fill="#7e5e10"/><circle cx="646.27" cy="488.45" r="4.5" fill="#7e5e10"/><circle cx="646.27" cy="488.45" r="3.6" fill="#e0603c"/>
<text x="653.3" y="492.6">5:29pm</text>
<circle cx="115.7" cy="501.8" r="4.8" fill="#ffffc8" stroke="#8c8c8c" stroke-width="0.9"/>
<text x="123.0" y="505.3">6:59pm</text>
<circle cx="194.7" cy="501.8" r="4.8" fill="#ffffc8" stroke="#8c8c8c" stroke-width="0.9"/>
<text x="202.0" y="505.3">7:46pm</text>
<circle cx="273.9" cy="501.8" r="4.8" fill="#ffffc8" stroke="#8c8c8c" stroke-width="0.9"/>
<text x="281.2" y="505.3">8:37pm</text>
<circle cx="353.1" cy="501.8" r="4.8" fill="#ffffc8" stroke="#8c8c8c" stroke-width="0.9"/>
<text x="360.4" y="505.3">9:29pm</text>
<circle cx="432.6" cy="501.8" r="4.8" fill="#ffffc8" stroke="#8c8c8c" stroke-width="0.9"/>
<text x="439.9" y="505.3">10:25pm</text>
<circle cx="512.1" cy="501.8" r="4.8" fill="#ffffc8" stroke="#8c8c8c" stroke-width="0.9"/>
<text x="519.4" y="505.3">11:22pm</text>
<circle cx="591.6" cy="501.8" r="4.8" fill="#ffffc8" stroke="#8c8c8c" stroke-width="0.9"/>
<text x="598.9" y="505.3">12:20am</text>
<circle cx="671.2" cy="501.8" r="4.8" fill="#ffffc8" stroke="#8c8c8c" stroke-width="0.9"/>
<text x="678.5" y="505.3">1:18am</text>
<circle cx="76.6" cy="515.7" r="4.8" fill="#c8c4b8" stroke="#8c8c8c" stroke-width="0.9"/>
<text x="84.1" y="519.5">6:42am</text>
<circle cx="155.7" cy="515.7" r="4.8" fill="#c8c4b8" stroke="#8c8c8c" stroke-width="0.9"/>
<text x="163.2" y="519.5">7:31am</text>
<circle cx="234.9" cy="515.7" r="4.8" fill="#c8c4b8" stroke="#8c8c8c" stroke-width="0.9"/>
<text x="242.4" y="519.5">8:23am</text>
<circle cx="314.2" cy="515.7" r="4.8" fill="#c8c4b8" stroke="#8c8c8c" stroke-width="0.9"/>
<text x="321.7" y="519.5">9:17am</text>
<circle cx="393.6" cy="515.7" r="4.8" fill="#c8c4b8" stroke="#8c8c8c" stroke-width="0.9"/>
<text x="401.1" y="519.5">10:12am</text>
<circle cx="473.1" cy="515.7" r="4.8" fill="#c8c4b8" stroke="#8c8c8c" stroke-width="0.9"/>
<text x="480.6" y="519.5">11:09am</text>
<circle cx="552.6" cy="515.7" r="4.8" fill="#c8c4b8" stroke="#8c8c8c" stroke-width="0.9"/>
<text x="560.1" y="519.5">12:06pm</text>
<circle cx="632.1" cy="515.7" r="4.8" fill="#c8c4b8" stroke="#8c8c8c" stroke-width="0.9"/>
<text x="639.6" y="519.5">1:02pm</text>
<text x="502.2" y="532.4" text-anchor="middle">Last Quarter | 10:46pm</text>
</g>
</svg>
</body></html>
